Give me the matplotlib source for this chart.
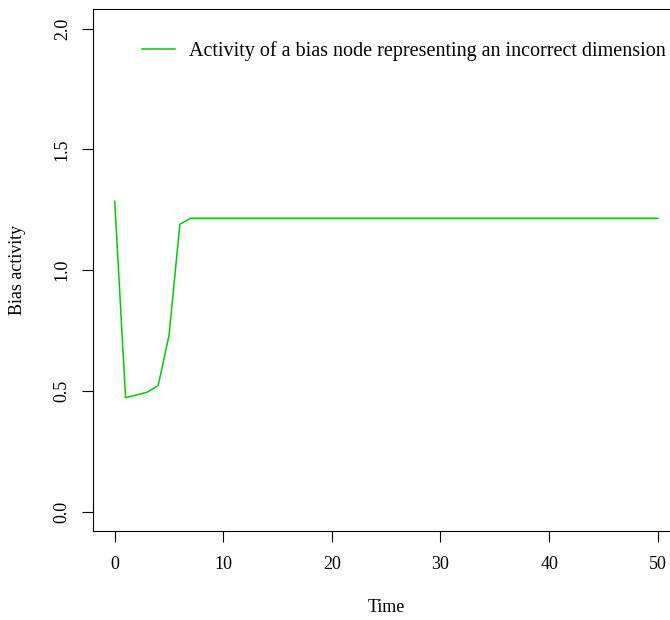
import matplotlib
matplotlib.use("Agg")
from matplotlib import pyplot as plt

# bias node activity, one value per time step
time = list(range(51))
bias = [1.285, 0.472, 0.483, 0.495, 0.522, 0.73, 1.19, 1.215] + [1.215] * 43
x_ticks = [0, 10, 20, 30, 40, 50]
y_ticks = [0.0, 0.5, 1.0, 1.5, 2.0]
y_tick_labels = ["0.0", "0.5", "1.0", "1.5", "2.0"]
legend_label = "Activity of a bias node representing an incorrect dimension"

plt.rcParams["font.family"] = ["Liberation Serif", "DejaVu Serif"]
fs = 13

fig = plt.figure(figsize=(6.7, 6.2), dpi=100)
ax = fig.add_axes([93 / 670, 89 / 620, 586.4 / 670, 521.7 / 620])

ax.plot(time, bias, color="#00CD00", linewidth=1.1, label=legend_label)

ax.set_xlim(-2, 52)
ax.set_ylim(-0.08, 2.08)
ax.set_xticks(x_ticks)
ax.set_yticks(y_ticks)
ax.set_yticklabels(y_tick_labels, rotation=90, va="center")

for s in ax.spines.values():
    s.set_linewidth(0.8)
ax.tick_params(direction="out", length=8, width=0.8, labelsize=fs, color="black")
ax.tick_params(axis="x", pad=10)
ax.tick_params(axis="y", pad=8)

ax.set_xlabel("Time", fontsize=fs)
ax.set_ylabel("Bias activity", fontsize=fs)
ax.xaxis.set_label_coords((386 - 93) / 586.4, (620 - 607 - 89) / 521.7)
ax.xaxis.label.set_va("center")
ax.yaxis.set_label_coords((18 - 93) / 586.4, 0.5)
ax.yaxis.label.set_va("center")

leg = ax.legend(loc="center left", bbox_to_anchor=(141.7 / 670, 1 - 51 / 620),
                bbox_transform=fig.transFigure, frameon=False, fontsize=14.5,
                borderpad=0, borderaxespad=0, handlelength=1.65, handletextpad=0.72)

fig.savefig("out.png", dpi=100)
